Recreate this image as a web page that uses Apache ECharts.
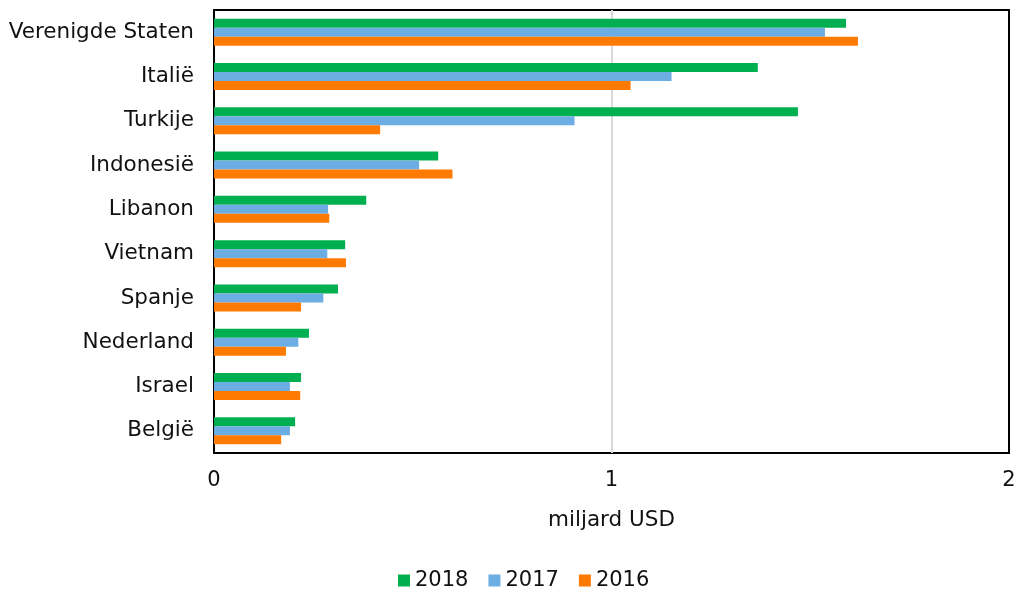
<!DOCTYPE html>
<html>
<head>
<meta charset="utf-8">
<script src="https://cdn.jsdelivr.net/npm/echarts@6/dist/echarts.min.js"></script>
<style>
  html, body { margin: 0; padding: 0; background: #fff; }
  #chart { width: 1019px; height: 593px; }
</style>
</head>
<body>
<div id="chart"></div>
<script>
// landen, van boven naar beneden
var landen = ["Verenigde Staten", "Italië", "Turkije", "Indonesië", "Libanon", "Vietnam", "Spanje", "Nederland", "Israel", "België"];
var jaren = ["2018", "2017", "2016"];
var waarden2018 = [1.59, 1.368, 1.469, 0.564, 0.383, 0.330, 0.312, 0.239, 0.219, 0.204];
var waarden2017 = [1.537, 1.151, 0.907, 0.516, 0.287, 0.285, 0.275, 0.212, 0.191, 0.191];
var waarden2016 = [1.62, 1.048, 0.418, 0.600, 0.290, 0.332, 0.219, 0.181, 0.217, 0.169];
var xTicks = [0, 1, 2];

var kleuren = ["#00B050", "#6CADE4", "#FF7A00"];
var font = "DejaVu Sans, Verdana, sans-serif";

var myChart = echarts.init(document.getElementById("chart"));

var reeksen = [waarden2018, waarden2017, waarden2016].map(function (d, i) {
  return {
    name: jaren[i],
    type: "bar",
    data: d,
    barWidth: 9,
    barGap: "0%",
    itemStyle: { color: kleuren[i] },
  };
});

var option = {
  animation: false,
  color: kleuren,
  textStyle: { fontFamily: font },
  grid: {
    left: 214,
    right: 10,
    top: 10,
    bottom: 140,
    show: true,
    borderColor: "#000",
    borderWidth: 2,
  },
  legend: {
    data: jaren,
    bottom: -3,
    left: 393,
    itemWidth: 12,
    itemHeight: 12,
    itemGap: 20,
    icon: "rect",
    textStyle: { fontSize: 21, color: "#111", fontFamily: font },
  },
  xAxis: {
    type: "value",
    min: 0,
    max: 2,
    interval: 1,
    name: "miljard USD",
    nameLocation: "middle",
    nameGap: 56,
    nameTextStyle: { fontSize: 21.5, color: "#111", fontFamily: font },
    axisLine: { show: false },
    axisTick: { show: false },
    axisLabel: {
      fontSize: 21,
      color: "#111",
      margin: 17,
      fontFamily: font,
      formatter: function (v) { return xTicks.indexOf(v) >= 0 ? String(v) : ""; },
    },
    // randen van het kader zwart, middelste lijn grijs
    splitLine: { show: true, lineStyle: { color: ["#000", "#d9d9d9", "#000"], width: 2 } },
  },
  yAxis: {
    type: "category",
    data: landen,
    inverse: true,
    axisLine: { show: false },
    axisTick: { show: false },
    axisLabel: { fontSize: 21.5, color: "#111", margin: 20, fontFamily: font },
    splitLine: { show: false },
  },
  series: reeksen,
};

option && myChart.setOption(option);
</script>
</body>
</html>
